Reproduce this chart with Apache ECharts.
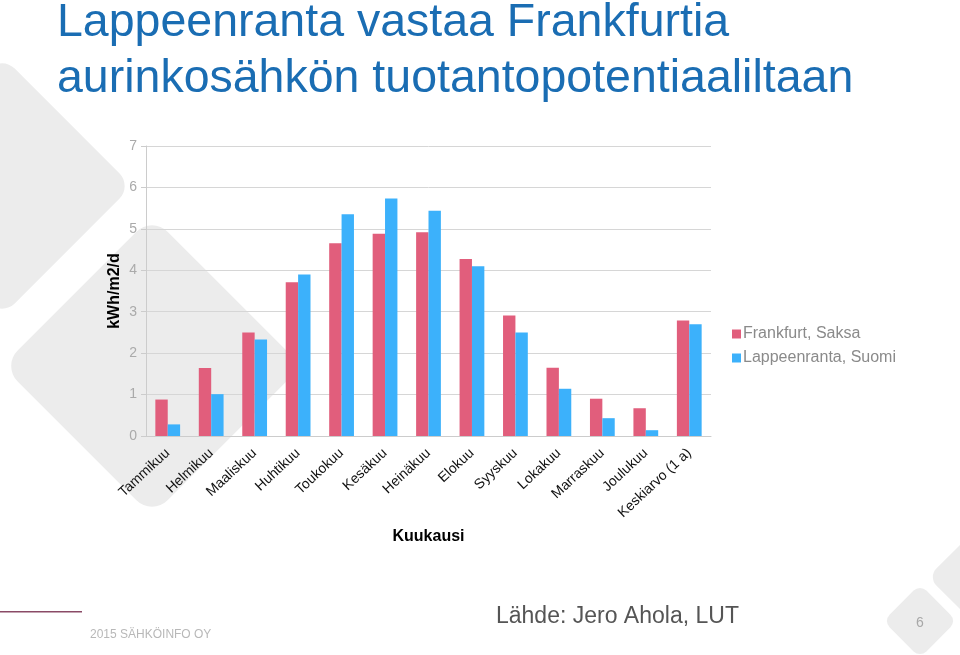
<!DOCTYPE html>
<html>
<head>
<meta charset="utf-8">
<script src="https://cdn.jsdelivr.net/npm/echarts@6/dist/echarts.min.js"></script>
<style>
html,body{margin:0;padding:0;background:#fff;}
#c{width:960px;height:655px;}
</style>
</head>
<body>
<div id="c"></div>
<script>
const categories = ['Tammikuu','Helmikuu','Maaliskuu','Huhtikuu','Toukokuu','Kesäkuu','Heinäkuu','Elokuu','Syyskuu','Lokakuu','Marraskuu','Joulukuu','Keskiarvo (1 a)'];
const frankfurt = [0.88,1.64,2.50,3.71,4.65,4.88,4.92,4.27,2.91,1.65,0.90,0.67,2.79];
const lappeenranta = [0.28,1.01,2.33,3.90,5.35,5.73,5.44,4.10,2.50,1.14,0.43,0.14,2.70];
const seriesNames = ['Frankfurt, Saksa','Lappeenranta, Suomi'];
const yTicks = [0,1,2,3,4,5,6,7];
const yAxisName = 'kWh/m2/d';

const FONT = '"Liberation Sans", Arial, Helvetica, sans-serif';
const chart = echarts.init(document.getElementById('c'));

function diamond(cx, cy, s, r){
  return {type:'rect', x:cx, y:cy, rotation:Math.PI/4, z:-10,
    shape:{x:-s/2,y:-s/2,width:s,height:s,r:r},
    style:{fill:'#ececec'}, silent:true};
}
function titleLine(txt, x, y){
  return {type:'text', x:x, y:y, z:5,
    style:{text:txt, fill:'#1a6db3', font:'46.5px '+FONT, verticalAlign:'middle', align:'left'}};
}

chart.setOption({
  backgroundColor:'#ffffff',
  animation:false,
  textStyle:{fontFamily:FONT},
  graphic:[
    diamond(2,186,184,18),
    diamond(152,366,212,22),
    diamond(920,621,52,9),
    diamond(1000,577,102,12),
    titleLine('Lappeenranta vastaa Frankfurtia', 57, 23),
    titleLine('aurinkosähkön tuotantopotentiaaliltaan', 57, 79),
    {type:'text', x:115, y:291, rotation:Math.PI/2, z:5,
      style:{text:yAxisName, fill:'#000', font:'bold 16px '+FONT, align:'center', verticalAlign:'middle'}},
    {type:'rect', shape:{x:0,y:611,width:82,height:1.5}, style:{fill:'#8a4a66'}, z:5},
    {type:'text', left:90, top:629, z:5, style:{text:'2015 SÄHKÖINFO OY', fill:'#b8b8b8', font:'12px '+FONT}},
    {type:'text', left:496, top:605, z:5, style:{text:'Lähde: Jero Ahola, LUT', fill:'#555555', font:'23px '+FONT}},
    {type:'text', x:920, y:623, z:5, style:{text:'6', fill:'#a8a8a8', font:'14px '+FONT, align:'center', verticalAlign:'middle'}}
  ],
  grid:{left:146, right:249, top:146, bottom:219, containLabel:false},
  legend:{
    orient:'vertical', left:727, top:321, itemWidth:9, itemHeight:9, itemGap:8,
    icon:'rect', data:seriesNames,
    textStyle:{color:'#8a8a8a', fontSize:16, fontFamily:FONT, padding:[0,0,0,-3]}
  },
  xAxis:{
    type:'category', data:categories,
    name:'Kuukausi', nameLocation:'middle', nameGap:93,
    nameTextStyle:{color:'#000', fontSize:16, fontWeight:'bold', fontFamily:FONT},
    axisLine:{lineStyle:{color:'#cccccc'}},
    axisTick:{show:false},
    axisLabel:{rotate:43, color:'#111', fontSize:14, margin:15, interval:0, fontFamily:FONT}
  },
  yAxis:{
    type:'value', min:0, max:7, interval:1,
    axisLine:{show:true, lineStyle:{color:'#cccccc'}},
    axisTick:{show:true, length:5, lineStyle:{color:'#cccccc'}},
    splitLine:{lineStyle:{color:'#d6d6d6'}},
    axisLabel:{color:'#aaaaaa', fontSize:14, margin:9, fontFamily:FONT,
      formatter:function(v){return yTicks.indexOf(v)>=0?String(v):'';}}
  },
  series:[
    {name:seriesNames[0], type:'bar', data:frankfurt, barGap:'0%', barCategoryGap:'43%', itemStyle:{color:'#e15e7c'}},
    {name:seriesNames[1], type:'bar', data:lappeenranta, barGap:'0%', barCategoryGap:'43%', itemStyle:{color:'#3cb1fb'}}
  ]
});
</script>
</body>
</html>
